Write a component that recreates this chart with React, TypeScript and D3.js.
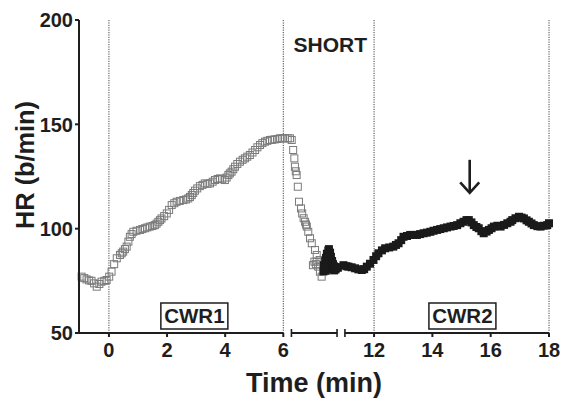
import React from "react";
import * as d3 from "d3";

// Hollow squares (CWR1 + SHORT decline), time in min, HR in b/min
const hollowTime = [
  -0.94, -0.85, -0.77, -0.68, -0.6, -0.51, -0.42, -0.33, -0.25, -0.16, -0.08, 0.01, 0.09, 0.18,
  0.27, 0.38, 0.44, 0.49, 0.55, 0.61, 0.67, 0.72, 0.78, 0.84, 0.95,
  1.07, 1.15, 1.24, 1.32, 1.41, 1.5, 1.58, 1.64, 1.7, 1.76, 1.81, 1.9, 1.99, 2.07, 2.16, 2.25,
  2.33, 2.44, 2.56, 2.65, 2.73, 2.79, 2.85, 2.9, 2.96, 3.04,
  3.13, 3.22, 3.3, 3.39, 3.48, 3.57, 3.65, 3.74, 3.82, 3.9, 3.99, 4.05, 4.11, 4.16, 4.22, 4.28,
  4.34, 4.42, 4.51, 4.6, 4.68, 4.76, 4.85, 4.94, 5.03, 5.11, 5.2, 5.28, 5.37, 5.45,
  5.54, 5.62, 5.71, 5.8, 5.89, 5.97, 6.06, 6.15, 6.23, 6.29, 6.34, 6.38, 6.4, 6.43, 6.46, 6.5,
  6.54, 6.61, 6.65, 6.7, 6.75, 6.78,
  6.81, 6.86, 6.92, 6.98, 7.02, 7.09, 7.07, 7.12, 7.15, 7.15, 7.2, 7.25, 7.26, 7.32,
];
const hollowHR = [
  77, 76.3, 75.7, 75.2, 75, 73.8, 72.2, 73.5, 74.6, 75, 75.4, 77, 79.4, 83,
  85.8, 87.4, 88.2, 89, 90.2, 91.4, 93.8, 96.1, 97.4, 98.5, 99,
  99.4, 99.8, 100.2, 100.6, 101, 101.3, 101.7, 102.4, 103.3, 104.1, 104.9, 106, 107.3, 109, 111.3, 112.2,
  112.9, 113.3, 113.7, 114, 114.5, 115.2, 116.1, 117.1, 118.2, 119.3,
  120.4, 121, 121.7, 121.5, 121.7, 122.5, 123.3, 123.8, 124.1, 123.7, 123.3, 124.5, 125.7, 126.5, 127.3, 128.5,
  129.7, 131, 132.1, 133, 133.7, 134.5, 135.3, 136.5, 137.7, 139, 140.1, 141, 141.7, 142.1,
  142.5, 142.6, 142.8, 143, 143.3, 143.3, 143.3, 143.3, 143.3, 142.5, 137.7, 133.7, 129.7, 127.5, 125.7, 120.1,
  112.9, 109.7, 107.3, 105, 103.3, 102,
  101, 98.5, 95.4, 93, 82.5, 89.8, 84.2, 83, 87.4, 84.2, 81.8, 85, 79.4, 77,
];

// Filled squares (end of SHORT + CWR2)
const filledTime = [
  7.38, 7.42, 7.4, 7.44, 7.46, 7.47, 7.5, 7.5, 7.54, 7.55, 7.57, 7.6, 7.61, 7.64, 7.65, 7.68,
  7.7, 7.71, 7.74, 7.75, 7.78, 7.8, 7.81, 7.85, 7.88,
  10.95, 11.05, 11.12, 11.23, 11.35, 11.46, 11.58, 11.66, 11.75, 11.86, 11.98, 12.07, 12.15, 12.27,
  12.38, 12.52, 12.66, 12.75, 12.84, 12.93, 13.01, 13.13, 13.24, 13.35, 13.47, 13.58, 13.7, 13.81,
  13.93, 14.04, 14.16, 14.27, 14.39, 14.5, 14.62, 14.73, 14.85, 14.96, 15.07, 15.17, 15.25,
  15.34, 15.42, 15.51, 15.59, 15.68, 15.76, 15.86, 15.94, 16.03, 16.11, 16.23, 16.34, 16.46,
  16.57, 16.68, 16.74, 16.85, 16.97, 17.06, 17.14, 17.23, 17.31, 17.4, 17.48, 17.6, 17.71,
  17.82, 17.94, 18.0,
];
const filledHR = [
  79.5, 81, 82.5, 84.5, 79.8, 86, 82, 88, 85, 89.5, 90.2, 84, 88.5, 86.5, 81, 84.5,
  80.5, 83, 82, 80, 81.5, 80.5, 81.2, 81.5, 81.3,
  82.5, 82, 81.8, 81.5, 81, 80.5, 80.2, 80.6, 81.8, 83.2, 85, 86.8, 88.2, 89.6,
  90.6, 91, 91.4, 92.2, 93, 94.5, 96.1, 96.5, 97, 97, 97, 97.4, 97.8, 98.1,
  98.5, 99, 99.4, 99.8, 100.2, 100.6, 101, 101.3, 101.7, 102.6, 103.3, 104.1, 104.1,
  103, 101.7, 100.8, 100.2, 98.8, 97.8, 98.6, 99.4, 100.2, 101, 101.4, 101, 101.8,
  102.6, 103.3, 104.1, 105, 105.7, 105.3, 104.9, 104, 103.3, 102.5, 101.7, 101.2, 101,
  101.4, 101.7, 102.6,
];

const yTicks = [50, 100, 150, 200];
const xTicks = [0, 2, 4, 6, 12, 14, 16, 18];
const phaseLines = [0, 6, 12, 18];
const axisSegments: [number, number][] = [[-1.03, 6], [6.28, 7.85], [11, 18]];
const phaseBoxes = [
  { label: "CWR1", time: 2.94 },
  { label: "CWR2", time: 15.03 },
];
const shortLabel = { label: "SHORT", time: 6.35, hr: 184.5 };
const arrowMark = { time: 15.28, top: 133, bottom: 117.2 };

const FONT = "'Liberation Sans', Arial, Helvetica, sans-serif";
const INK = "#1e1e1e";

export default function App() {
  const x = d3.scaleLinear().domain([-1.03, 7.9, 10.9, 18]).range([79, 338.5, 342, 549]);
  const y = d3.scaleLinear().domain([50, 200]).range([333, 20]);
  const yBase = y(50);
  const hs = 7;
  const fs = 8;

  return (
    <svg
      width={562}
      height={399}
      style={{ position: "absolute", left: 0, top: 0, background: "#fff" }}
      fontFamily={FONT}
    >
      <rect width={562} height={399} fill="#fff" />
      {phaseLines.map((t) => (
        <line
          key={"pl" + t}
          x1={x(t)}
          x2={x(t)}
          y1={y(200)}
          y2={yBase}
          stroke="#444"
          strokeWidth={1}
          strokeDasharray="1.2,1.2"
        />
      ))}
      {hollowTime.map((t, i) => (
        <rect
          key={"h" + i}
          x={x(t) - hs / 2}
          y={y(hollowHR[i]) - hs / 2}
          width={hs}
          height={hs}
          fill="none"
          stroke="#7a7a7a"
          strokeWidth={1}
        />
      ))}
      {filledTime.map((t, i) => (
        <rect
          key={"f" + i}
          x={x(t) - fs / 2}
          y={y(filledHR[i]) - fs / 2}
          width={fs}
          height={fs}
          fill="#1a1a1a"
        />
      ))}
      <line x1={79} x2={79} y1={y(200)} y2={yBase + 1} stroke={INK} strokeWidth={2} />
      {yTicks.map((v) => (
        <g key={"yt" + v}>
          <line x1={75} x2={79} y1={y(v)} y2={y(v)} stroke={INK} strokeWidth={2} />
          <text
            x={73}
            y={y(v)}
            dy="0.36em"
            textAnchor="end"
            fontSize={20}
            fontWeight="bold"
            fill={INK}
          >
            {v}
          </text>
        </g>
      ))}
      {axisSegments.map(([a, b], i) => (
        <g key={"seg" + i}>
          <line x1={x(a)} x2={x(b)} y1={yBase} y2={yBase} stroke={INK} strokeWidth={2} />
          {i > 0 && (
            <line x1={x(a)} x2={x(a)} y1={yBase - 4} y2={yBase + 4} stroke={INK} strokeWidth={1.6} />
          )}
          {i === 1 && (
            <line x1={x(b)} x2={x(b)} y1={yBase - 4} y2={yBase + 4} stroke={INK} strokeWidth={1.6} />
          )}
        </g>
      ))}
      {xTicks.map((t) => (
        <g key={"xt" + t}>
          <line x1={x(t)} x2={x(t)} y1={yBase} y2={yBase + 4} stroke={INK} strokeWidth={2} />
          <text
            x={x(t)}
            y={357}
            textAnchor="middle"
            fontSize={20}
            fontWeight="bold"
            fill={INK}
          >
            {t}
          </text>
        </g>
      ))}
      <text
        x={314}
        y={392}
        textAnchor="middle"
        fontSize={27}
        fontWeight="bold"
        fill={INK}
      >
        Time (min)
      </text>
      <text
        transform={`translate(33.5,165) rotate(-90)`}
        textAnchor="middle"
        fontSize={25.3}
        fontWeight="bold"
        fill={INK}
      >
        HR (b/min)
      </text>
      {phaseBoxes.map((b) => (
        <g key={b.label}>
          <rect
            x={x(b.time) - 33.5}
            y={303}
            width={67}
            height={26}
            fill="#fff"
            stroke={INK}
            strokeWidth={1.5}
          />
          <text
            x={x(b.time)}
            y={322.5}
            textAnchor="middle"
            fontSize={20.5}
            fontWeight="bold"
            fill={INK}
          >
            {b.label}
          </text>
        </g>
      ))}
      <text
        x={x(shortLabel.time)}
        y={y(shortLabel.hr)}
        fontSize={21}
        fontWeight="bold"
        fill={INK}
      >
        {shortLabel.label}
      </text>
      <g stroke={INK} strokeWidth={2.6} fill="none">
        <line
          x1={x(arrowMark.time)}
          x2={x(arrowMark.time)}
          y1={y(arrowMark.top)}
          y2={y(arrowMark.bottom) - 1}
        />
        <polyline
          points={`${x(arrowMark.time) - 9.5},${y(arrowMark.bottom) - 10.5} ${x(arrowMark.time)},${y(
            arrowMark.bottom
          )} ${x(arrowMark.time) + 9.5},${y(arrowMark.bottom) - 10.5}`}
          strokeLinejoin="miter"
        />
      </g>
    </svg>
  );
}
